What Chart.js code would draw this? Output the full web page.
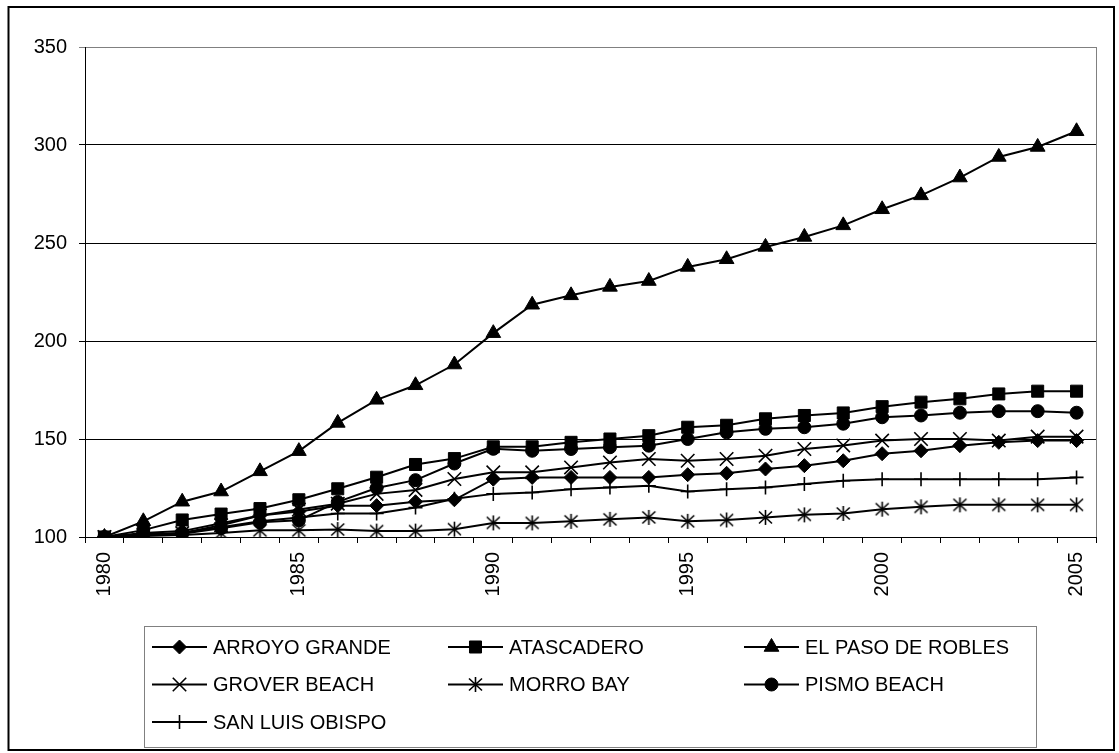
<!DOCTYPE html>
<html>
<head>
<meta charset="utf-8">
<script src="https://cdn.jsdelivr.net/npm/chart.js@4/dist/chart.umd.min.js"></script>
<style>
  html, body { margin: 0; padding: 0; background: #fff; }
  #wrap { width: 1119px; height: 753px; }
</style>
</head>
<body>
<div id="wrap"><canvas id="chart" width="1119" height="753"></canvas></div>
<script>
// years on the category axis
const years = ['1980', '1981', '1982', '1983', '1984', '1985', '1986', '1987', '1988', '1989',
  '1990', '1991', '1992', '1993', '1994', '1995', '1996', '1997', '1998', '1999',
  '2000', '2001', '2002', '2003', '2004', '2005'];

// index values (1980 = 100)
const arroyoGrande = [100, 102, 103, 107, 111, 113, 116, 116, 118, 119, 129.5, 130.4, 130.4, 130.4, 130.4, 131.8, 132.5, 134.7, 136.4, 138.9, 142.5, 144, 146.6, 148.3, 149.2, 149.2];
const atascadero = [100, 103.5, 108.7, 111.7, 114.5, 119, 124.6, 130.5, 137, 140, 146, 146, 148.3, 150, 151.7, 156, 157, 160.3, 162, 163.3, 166.5, 168.8, 170.5, 173, 174.4, 174.4];
const pasoRobles = [100, 108, 118, 123.2, 133.5, 143.8, 158.2, 170, 177.4, 188, 204, 218.5, 223.3, 227.6, 230.6, 237.8, 241.7, 248, 253.1, 259, 267.2, 274.3, 283.4, 293.9, 299, 307];
const groverBeach = [100, 101, 102, 106, 111, 114, 117, 122, 124, 129.6, 133, 133, 135.5, 138, 139.8, 138.9, 139.8, 141.5, 144.9, 146.7, 149.2, 150, 150, 149.2, 151.2, 151.2];
const morroBay = [100, 100.5, 101, 102, 103.4, 103.4, 103.8, 103, 103, 104, 107.2, 107.2, 108, 109, 110, 108, 108.7, 110, 111.3, 112, 114.2, 115.4, 116.4, 116.4, 116.4, 116.4];
const pismoBeach = [100, 101.5, 101.7, 104.5, 107.5, 108.5, 117.9, 125, 129, 137.5, 145, 144, 144.9, 145.8, 146.6, 150, 153.4, 155.2, 156, 157.8, 161.1, 162, 163.4, 164.2, 164.2, 163.4];
const sanLuisObispo = [100, 101, 102, 105, 108, 110, 112, 112, 115, 119.5, 122, 122.7, 124.4, 125.3, 126.1, 123.2, 124.4, 125.3, 127, 128.7, 129.5, 129.5, 129.5, 129.5, 129.5, 130.4];

const seriesNames = ['ARROYO GRANDE', 'ATASCADERO', 'EL PASO DE ROBLES', 'GROVER BEACH', 'MORRO BAY', 'PISMO BEACH', 'SAN LUIS OBISPO'];
const seriesValues = [arroyoGrande, atascadero, pasoRobles, groverBeach, morroBay, pismoBeach, sanLuisObispo];
const yTicks = [100, 150, 200, 250, 300, 350];

const FONT = '"Liberation Sans", Arial, sans-serif';

// Excel style asterisk: an X with a vertical bar
function makeStar() {
  const c = document.createElement('canvas');
  c.width = 17; c.height = 17;
  const g = c.getContext('2d');
  g.strokeStyle = '#000';
  g.lineWidth = 1.6;
  g.beginPath();
  g.moveTo(2, 2.5); g.lineTo(15, 14.5);
  g.moveTo(15, 2.5); g.lineTo(2, 14.5);
  g.moveTo(8.5, 1); g.lineTo(8.5, 16);
  g.stroke();
  return c;
}
const starImg = makeStar();

const markers = [
  { pointStyle: 'rectRot', radius: 7, borderWidth: 1 },
  { pointStyle: 'rect', radius: 8.5, borderWidth: 1 },
  { pointStyle: 'triangle', radius: 8.5, borderWidth: 1 },
  { pointStyle: 'crossRot', radius: 9.5, borderWidth: 1.6 },
  { pointStyle: starImg, radius: 8, borderWidth: 1 },
  { pointStyle: 'circle', radius: 6.5, borderWidth: 1 },
  { pointStyle: 'cross', radius: 7, borderWidth: 1.6 }
];

const datasets = seriesNames.map((name, i) => ({
  label: name,
  data: seriesValues[i],
  borderColor: '#000',
  backgroundColor: '#000',
  borderWidth: 2,
  pointStyle: markers[i].pointStyle,
  pointRadius: markers[i].radius,
  pointHoverRadius: markers[i].radius,
  pointBorderWidth: markers[i].borderWidth,
  pointBackgroundColor: '#000',
  pointBorderColor: '#000',
  tension: 0,
  order: seriesNames.length - i
}));

// background, plot frame, outer border and the legend box
const excelLook = {
  id: 'excelLook',
  beforeDraw(chart) {
    const ctx = chart.ctx;
    ctx.save();
    ctx.fillStyle = '#fff';
    ctx.fillRect(0, 0, chart.width, chart.height);
    ctx.restore();
  },
  beforeDatasetsDraw(chart) {
    const ctx = chart.ctx, a = chart.chartArea;
    ctx.save();
    ctx.strokeStyle = '#808080';
    ctx.lineWidth = 1;
    ctx.beginPath();
    ctx.moveTo(Math.round(a.right) + 0.5, a.top);
    ctx.lineTo(Math.round(a.right) + 0.5, a.bottom);
    ctx.stroke();
    ctx.restore();
  },
  afterDraw(chart) {
    const ctx = chart.ctx;
    ctx.save();
    // outer border
    ctx.strokeStyle = '#000';
    ctx.lineWidth = 2;
    ctx.strokeRect(8.5, 7, 1105.5, 743);

    // legend box
    ctx.strokeStyle = '#808080';
    ctx.lineWidth = 1;
    ctx.strokeRect(144.5, 626.5, 892, 121);

    const colX = [152, 448, 744];
    const rowY = [647, 684.5, 722];
    ctx.font = '20px ' + FONT;
    ctx.textBaseline = 'middle';
    ctx.textAlign = 'left';
    chart.data.datasets.forEach((ds, i) => {
      const x0 = colX[i % 3], y = rowY[Math.floor(i / 3)];
      ctx.strokeStyle = '#000';
      ctx.fillStyle = '#000';
      ctx.lineWidth = 2;
      ctx.beginPath();
      ctx.moveTo(x0, y);
      ctx.lineTo(x0 + 55, y);
      ctx.stroke();
      const m = markers[i];
      ctx.lineWidth = m.borderWidth;
      if (Chart.helpers && Chart.helpers.drawPoint) {
        Chart.helpers.drawPoint(ctx, { pointStyle: m.pointStyle, radius: m.radius, borderWidth: m.borderWidth, rotation: 0 }, x0 + 27.5, y);
      }
      ctx.fillStyle = '#000';
      ctx.fillText(ds.label, x0 + 61, y + 1);
    });
    ctx.restore();
  }
};

new Chart(document.getElementById('chart'), {
  type: 'line',
  data: { labels: years, datasets: datasets },
  options: {
    responsive: false,
    animation: false,
    events: [],
    layout: { padding: { top: 47, right: 23, bottom: 0, left: 0 } },
    plugins: {
      legend: { display: false },
      tooltip: { enabled: false }
    },
    scales: {
      x: {
        type: 'category',
        offset: true,
        afterFit(scale) { scale.height = 216; },
        grid: {
          display: true,
          offset: true,
          drawOnChartArea: false,
          drawTicks: true,
          tickLength: 6,
          color: '#000',
          lineWidth: 1
        },
        border: { color: '#000', width: 1 },
        ticks: {
          autoSkip: false,
          maxRotation: 90,
          minRotation: 90,
          padding: 9,
          color: '#000',
          font: { size: 20, family: FONT },
          callback(value, index) {
            const y = years[index];
            return Number(y) % 5 === 0 ? y : '';
          }
        }
      },
      y: {
        min: yTicks[0],
        max: yTicks[yTicks.length - 1],
        afterFit(scale) { scale.width = 85; },
        afterBuildTicks(scale) { scale.ticks = yTicks.map(v => ({ value: v })); },
        grid: {
          color: c => (c.tick && c.tick.value === 350 ? '#808080' : '#000'),
          lineWidth: 1,
          drawTicks: true,
          tickLength: 6
        },
        border: { color: '#000', width: 1 },
        ticks: {
          padding: 12,
          color: '#000',
          font: { size: 20, family: FONT }
        }
      }
    }
  },
  plugins: [excelLook]
});
</script>
</body>
</html>
